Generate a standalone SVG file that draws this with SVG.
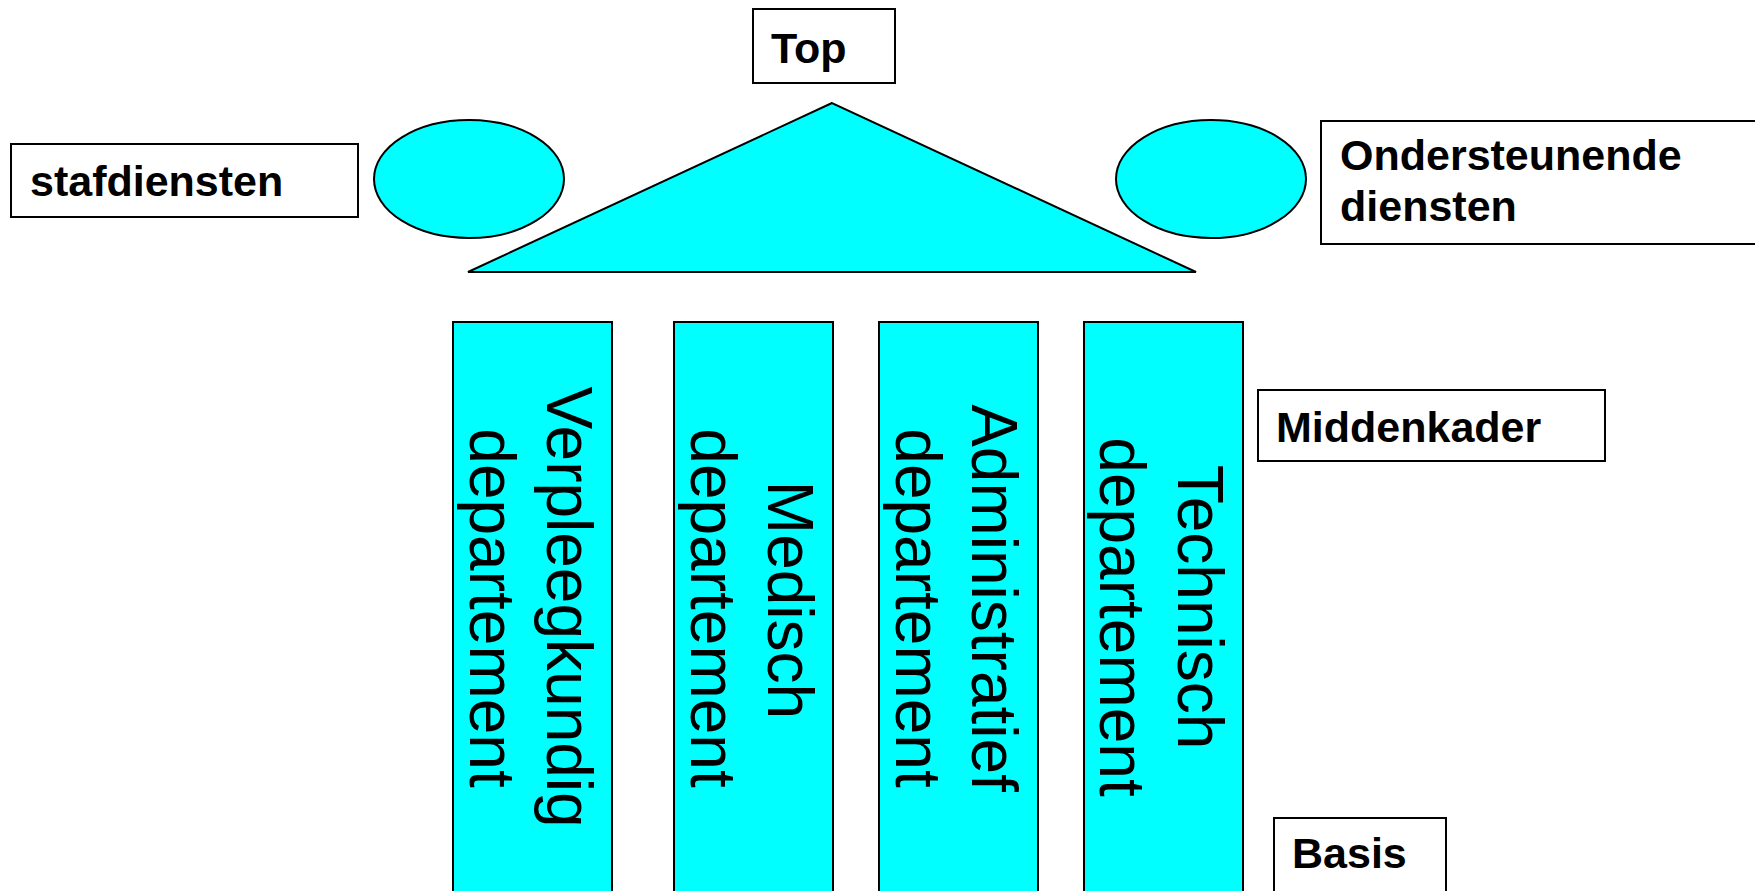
<svg xmlns="http://www.w3.org/2000/svg" width="1755" height="891" viewBox="0 0 1755 891">
  <style>
    .shape { fill: #00FFFF; stroke: #000; stroke-width: 2; }
    .box { fill: #fff; stroke: #000; stroke-width: 2; }
    .label { font-family: "Liberation Sans", Arial, sans-serif; font-weight: bold; font-size: 43px; fill: #000; }
    .dept { font-family: "Liberation Sans", Arial, sans-serif; font-size: 64px; fill: #000; text-anchor: middle; }
  </style>
  <rect width="1755" height="891" fill="#fff"/>

  <!-- roof of the building -->
  <g id="roof">
    <polygon class="shape" points="832,103 468,272 1196,272"/>
  </g>

  <g id="staff-oval">
    <ellipse class="shape" cx="469" cy="179" rx="95" ry="59"/>
  </g>
  <g id="support-oval">
    <ellipse class="shape" cx="1211" cy="179" rx="95" ry="59"/>
  </g>

  <!-- pillars: departments -->
  <g id="dept-verpleegkundig">
    <rect class="shape" x="453" y="322" width="159" height="600"/>
    <text class="dept" transform="translate(546.5,607) rotate(90)">Verpleegkundig</text>
    <text class="dept" transform="translate(469.5,608) rotate(90)">departement</text>
  </g>
  <g id="dept-medisch">
    <rect class="shape" x="674" y="322" width="159" height="600"/>
    <text class="dept" transform="translate(767.5,600) rotate(90)">Medisch</text>
    <text class="dept" transform="translate(690.5,608) rotate(90)">departement</text>
  </g>
  <g id="dept-administratief">
    <rect class="shape" x="879" y="322" width="159" height="600"/>
    <text class="dept" transform="translate(972,598) rotate(90)">Administratief</text>
    <text class="dept" transform="translate(895.5,608) rotate(90)">departement</text>
  </g>
  <g id="dept-technisch">
    <rect class="shape" x="1084" y="322" width="159" height="600"/>
    <text class="dept" transform="translate(1178,607) rotate(90)">Technisch</text>
    <text class="dept" transform="translate(1099.5,617) rotate(90)">departement</text>
  </g>

  <!-- level labels -->
  <g id="label-top">
    <rect class="box" x="753" y="9" width="142" height="74"/>
    <text class="label" x="771" y="63">Top</text>
  </g>
  <g id="label-stafdiensten">
    <rect class="box" x="11" y="144" width="347" height="73"/>
    <text class="label" x="30" y="196">stafdiensten</text>
  </g>
  <g id="label-ondersteunende">
    <rect class="box" x="1321" y="121" width="460" height="123"/>
    <text class="label" x="1340" y="170">Ondersteunende</text>
    <text class="label" x="1340" y="221">diensten</text>
  </g>
  <g id="label-middenkader">
    <rect class="box" x="1258" y="390" width="347" height="71"/>
    <text class="label" x="1276" y="442">Middenkader</text>
  </g>
  <g id="label-basis">
    <rect class="box" x="1274" y="818" width="172" height="100"/>
    <text class="label" x="1292" y="868">Basis</text>
  </g>
</svg>
